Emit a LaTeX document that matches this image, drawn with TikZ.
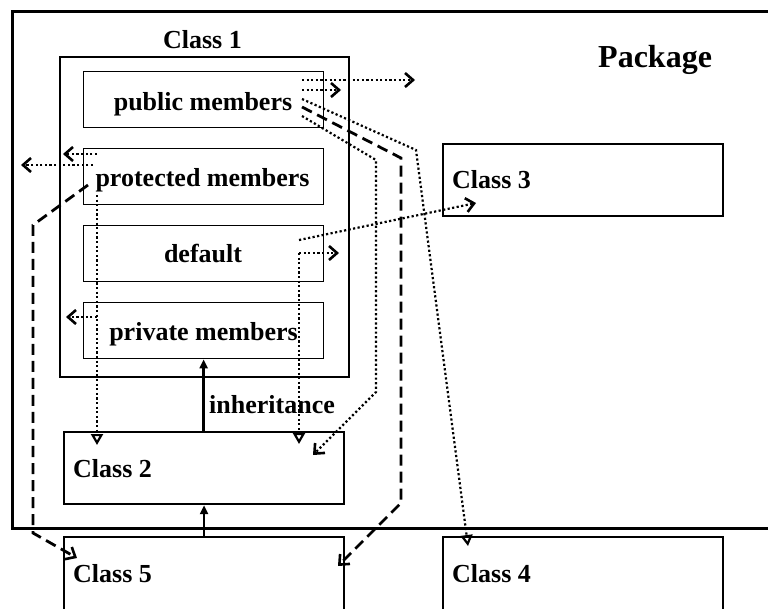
\documentclass[tikz,border=0pt]{standalone}
\usepackage{fontspec}
\setmainfont{Liberation Serif}
\usetikzlibrary{arrows.meta}
\begin{document}
\begin{tikzpicture}[x=1pt,y=-1pt,
  thinbox/.style={draw, line width=1.3pt, inner sep=0pt, anchor=north west, minimum width=240pt, minimum height=56pt},
  classbox/.style={draw, line width=2.2pt, inner sep=0pt, anchor=north west, minimum width=280pt, minimum height=72pt},
  lbl/.style={font=\fontsize{26}{30}\selectfont\bfseries, inner sep=0pt},
  dots/.style={line width=2.2pt, dash pattern=on 2.2pt off 2.4pt, line cap=butt},
  dashes/.style={line width=2.8pt, dash pattern=on 11pt off 6pt},
  barb/.style={-{Straight Barb[length=8pt,width=14pt,line width=2.6pt]}},
  tri/.style={-{Triangle[open,length=11pt,width=12pt,line width=2.2pt]}},
  solidarrow/.style={line width=2.4pt, -{Triangle[length=9pt,width=8pt]}}
  ]
\useasboundingbox (0,0) rectangle (768,608);
\clip (0,0) rectangle (768,608);
\fill[white] (0,0) rectangle (768,608);

% package
\node[draw, line width=3.2pt, inner sep=0pt, anchor=north west, minimum width=790pt, minimum height=517pt] (pkg) at (11,10) {};
\node[font=\fontsize{32}{36}\selectfont\bfseries, inner sep=0pt, anchor=base west] (pkglbl) at (598,67) {Package};

% class 1
\node[draw, line width=1.8pt, inner sep=0pt, anchor=north west, minimum width=289pt, minimum height=320pt] (c1) at (59,56) {};
\node[lbl, anchor=base] (c1lbl) at (202.5,48) {Class 1};
\node[thinbox] (pub) at (83,71) {};
\node[thinbox] (prot) at (83,148) {};
\node[thinbox] (def) at (83,225) {};
\node[thinbox] (priv) at (83,302) {};
\node[lbl, anchor=base] (publbl) at (203,110) {public members};
\node[lbl, anchor=base] (protlbl) at (202.5,186) {protected members};
\node[lbl, anchor=base] (deflbl) at (203,262) {default};
\node[lbl, anchor=base] (privlbl) at (203.5,340) {private members};

% other classes
\node[classbox] (c2) at (63,431) {};
\node[classbox] (c3) at (442,143) {};
\node[classbox, minimum height=90pt] (c5) at (63,536) {};
\node[classbox, minimum height=90pt] (c4) at (442,536) {};
\node[lbl, anchor=base west] (c2lbl) at (73,477) {Class 2};
\node[lbl, anchor=base west] (c3lbl) at (452,188) {Class 3};
\node[lbl, anchor=base west] (c5lbl) at (73,582) {Class 5};
\node[lbl, anchor=base west] (c4lbl) at (452,582) {Class 4};
\node[lbl, anchor=base west] (inhlbl) at (209,413) {inheritance};

% inheritance arrows
\draw[solidarrow] (c2.north -| priv.south) -- (priv.south);
\draw[solidarrow] (c5.north -| c2.south) -- (c2.south);

% coordinates
\coordinate (pa) at (302,80);  \coordinate (pae) at (415,80);
\coordinate (pb) at (302,90);  \coordinate (pbe) at (341,90);
\coordinate (pc) at (302,99);  \coordinate (pc1) at (416,150); \coordinate (pce) at (468,546);
\coordinate (pd) at (302,107); \coordinate (pd1) at (401,158); \coordinate (pd2) at (401,503); \coordinate (pde) at (338,566);
\coordinate (pe) at (302,116); \coordinate (pe1) at (376,160); \coordinate (pe2) at (376,392); \coordinate (pee) at (313,455);
\coordinate (ra) at (97,154);  \coordinate (rae) at (63,154);
\coordinate (rb) at (93,165);  \coordinate (rbe) at (21,165);
\coordinate (rc) at (88,185);  \coordinate (rc1) at (33,225); \coordinate (rc2) at (33,533); \coordinate (rce) at (77,558);
\coordinate (rd) at (97,195);  \coordinate (rde) at (97,445);
\coordinate (va) at (97,317);  \coordinate (vae) at (66,317);
\coordinate (da) at (299,240); \coordinate (dae) at (476,203);
\coordinate (db) at (299,253); \coordinate (dbe) at (339,253);
\coordinate (dce) at (299,444);

% public members
\draw[dots, barb] (pa) -- (pae);
\draw[dots, barb] (pb) -- (pbe);
\draw[dots, tri] (pc) -- (pc1) -- (pce);
\draw[dashes, barb] (pd) -- (pd1) -- (pd2) -- (pde);
\draw[dots, barb] (pe) -- (pe1) -- (pe2) -- (pee);
% protected members
\draw[dots, barb] (ra) -- (rae);
\draw[dots, barb] (rb) -- (rbe);
\draw[dashes, barb] (rc) -- (rc1) -- (rc2) -- (rce);
\draw[dots, tri] (rd) -- (rde);
% private members
\draw[dots, barb] (va) -- (vae);
% default
\draw[dots, barb] (da) -- (dae);
\draw[dots, barb] (db) -- (dbe);
\draw[dots, tri] (db) -- (dce);
\end{tikzpicture}
\end{document}
